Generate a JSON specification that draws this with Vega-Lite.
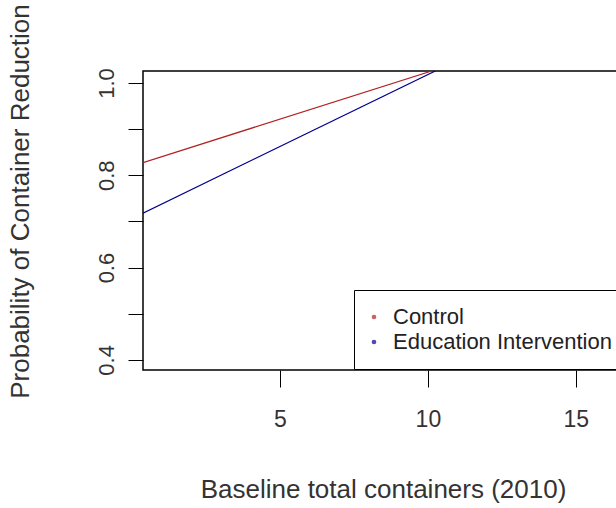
{
  "$schema": "https://vega.github.io/schema/vega-lite/v6.json",
  "autosize": {"type": "none"},
  "padding": {"left": 143, "top": 71, "right": 0, "bottom": 138},
  "width": 492,
  "height": 299,
  "background": "white",
  "config": {
    "font": "Liberation Sans",
    "view": {"stroke": "#000000", "strokeWidth": 1.5},
    "axis": {"grid": false, "domain": false, "tickColor": "#000000", "tickWidth": 1, "labelColor": "#333333", "titleColor": "#333333", "titleFontWeight": "normal"}
  },
  "data": {
    "values": [
      {"x": 0.37, "p": 0.8275, "group": "Control"},
      {"x": 10.13, "p": 1.026, "group": "Control"},
      {"x": 0.37, "p": 0.718, "group": "Education Intervention"},
      {"x": 10.25, "p": 1.026, "group": "Education Intervention"}
    ]
  },
  "encoding": {
    "x": {
      "field": "x", "type": "quantitative",
      "scale": {"domain": [0.37, 17.0], "nice": false, "zero": false},
      "axis": {
        "values": [5, 10, 15], "tickSize": 17, "labelFontSize": 23, "labelBaseline": "middle", "labelPadding": 32,
        "title": "Baseline total containers (2010)", "titleFontSize": 26, "titleBaseline": "middle", "titleY": 119, "titleX": 240
      }
    },
    "y": {
      "field": "p", "type": "quantitative",
      "scale": {"domain": [0.378, 1.026], "nice": false, "zero": false},
      "axis": {
        "values": [0.4, 0.5, 0.6, 0.7, 0.8, 0.9, 1.0], "format": ".1f",
        "labelExpr": "indexof(['0.4','0.6','0.8','1.0'], datum.label) >= 0 ? datum.label : ''",
        "tickSize": 15, "labelFontSize": 22, "labelAngle": -90, "labelAlign": "center", "labelBaseline": "alphabetic", "labelPadding": 15,
        "title": "Probability of Container Reduction", "titleFontSize": 26, "titleBaseline": "middle", "titleX": -123, "titleY": 130, "titleAngle": -90
      }
    }
  },
  "layer": [
    {
      "mark": {"type": "point", "filled": true, "size": 1, "clip": true},
      "encoding": {
        "color": {
          "field": "group", "type": "nominal",
          "scale": {"domain": ["Control", "Education Intervention"], "range": ["#b22222", "#00008b"]},
          "legend": {
            "orient": "none", "legendX": 211, "legendY": 219, "title": null,
            "padding": 16, "strokeColor": "#000000", "fillColor": "white",
            "symbolType": "circle", "symbolSize": 22, "symbolStrokeWidth": 0, "symbolOffset": -7,
            "labelFontSize": 22, "labelColor": "#222222", "labelOffset": 8, "labelLimit": 400, "rowPadding": 3
          }
        }
      }
    },
    {
      "mark": {"type": "line", "strokeWidth": 1.2, "clip": true},
      "encoding": {
        "color": {"field": "group", "type": "nominal"}
      }
    }
  ]
}
